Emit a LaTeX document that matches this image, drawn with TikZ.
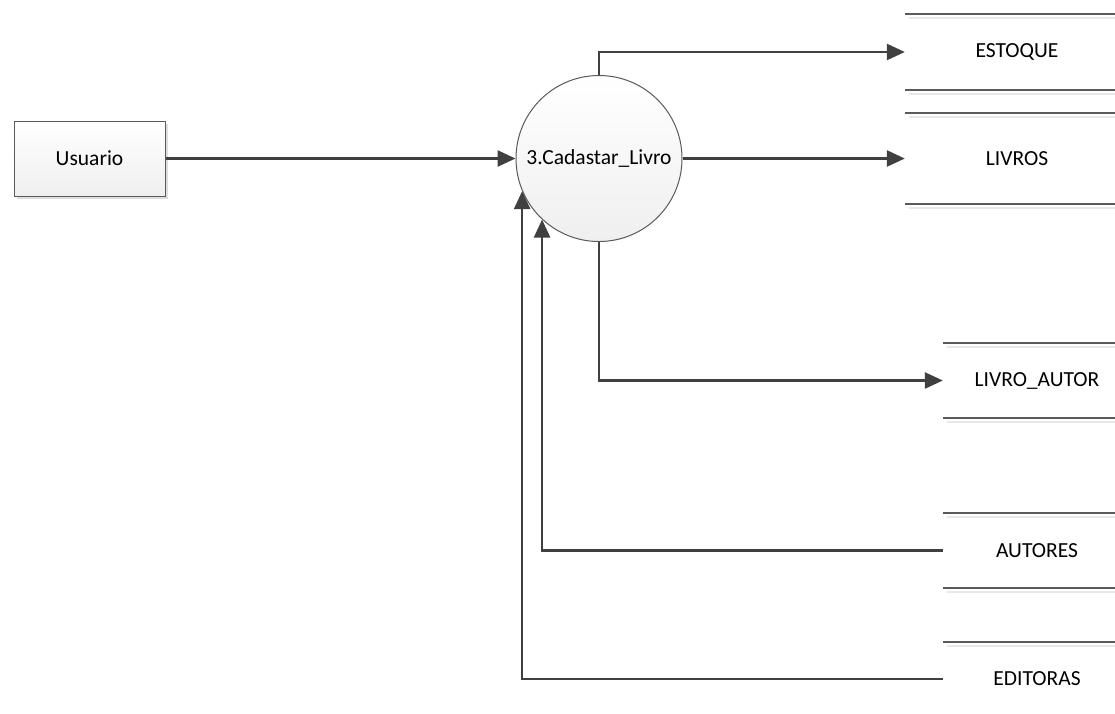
\documentclass[tikz,border=0pt]{standalone}
\usepackage{fontspec}
\setmainfont{Carlito}
\usetikzlibrary{arrows.meta,calc,shadows}
\definecolor{lineC}{HTML}{404040}
\definecolor{edgeC}{HTML}{5A5A5A}
\definecolor{shadeC}{HTML}{E8E8E8}
\definecolor{fillC}{HTML}{EFEFEF}
\tikzset{
  flow/.style={draw=lineC, line width=2.6pt, -{Triangle[length=18pt,width=16pt]}},
  entity/.style={draw=edgeC, line width=1pt, top color=white, bottom color=fillC,
    minimum width=151pt, minimum height=75pt, inner sep=0pt,
    drop shadow={shadow xshift=3pt, shadow yshift=-3pt, fill=black!13, opacity=1},
    font=\fontsize{21.5pt}{25pt}\selectfont},
  process/.style={circle, draw=edgeC, line width=1pt, top color=white, bottom color=fillC,
    minimum size=166pt, inner sep=0pt, font=\fontsize{21.5pt}{25pt}\selectfont},
  store/.style={draw=none, inner sep=0pt, font=\fontsize{21.5pt}{25pt}\selectfont},
  storeline/.style={draw=edgeC, line width=1.8pt},
  storeshade/.style={draw=shadeC, line width=1.8pt}
}
\newcommand{\storelines}[1]{%
  \draw[storeshade] ($(#1.north west)+(4,4)$) -- ($(#1.north east)+(4,4)$);
  \draw[storeline] (#1.north west) -- (#1.north east);
  \draw[storeshade] ($(#1.south west)+(4,4)$) -- ($(#1.south east)+(4,4)$);
  \draw[storeline] (#1.south west) -- (#1.south east);
}
\begin{document}
\begin{tikzpicture}[x=1pt,y=-1pt]
\useasboundingbox (0,0) rectangle (1115,713);
\clip (0,0) rectangle (1115,713);
\fill[white] (0,0) rectangle (1115,713);
\node[entity] (usuario) at (89.5,158.5) {Usuario};
\node[process] (proc) at (599,158.5) {3.Cadastar\_Livro};
\node[store, minimum width=224pt, minimum height=76pt] (estoque) at (1017,52) {ESTOQUE};
\node[store, minimum width=224pt, minimum height=90pt] (livros) at (1017,158.5) {LIVROS};
\node[store, minimum width=188pt, minimum height=75pt] (livroautor) at (1037,380.5) {LIVRO\_AUTOR};
\node[store, minimum width=188pt, minimum height=75pt] (autores) at (1037,550.5) {AUTORES};
\node[store, minimum width=188pt, minimum height=74pt] (editoras) at (1037,679) {EDITORAS};
\storelines{estoque}
\storelines{livros}
\storelines{livroautor}
\storelines{autores}
\draw[storeshade] ($(editoras.north west)+(4,4)$) -- ($(editoras.north east)+(4,4)$);
\draw[storeline] (editoras.north west) -- (editoras.north east);
\draw[flow] (usuario.east) -- (proc.west);
\draw[flow] (proc.north) |- (estoque.west);
\draw[flow] (proc.east) -- (livros.west);
\draw[flow] (proc.south) |- (livroautor.west);
\draw[flow] (autores.west) -| (proc.227.6);
\draw[flow] (editoras.west) -| (proc.203.7);
\end{tikzpicture}
\end{document}
